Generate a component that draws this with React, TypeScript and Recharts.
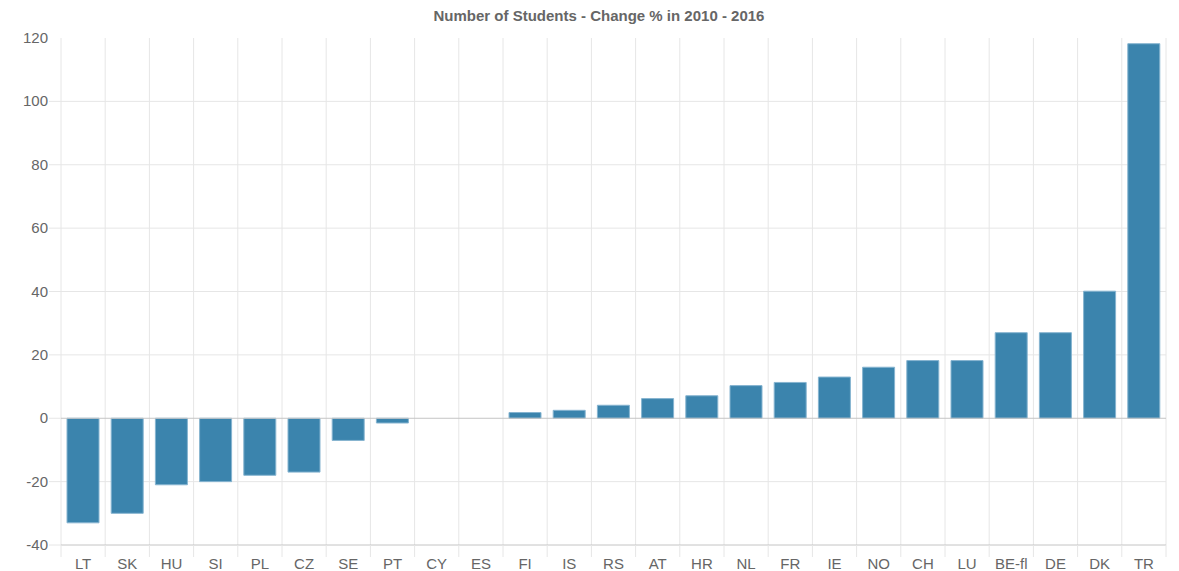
import { BarChart, Bar, XAxis, YAxis, CartesianGrid, ReferenceLine } from "recharts";

const countries = ["LT", "SK", "HU", "SI", "PL", "CZ", "SE", "PT", "CY", "ES", "FI", "IS", "RS", "AT", "HR", "NL", "FR", "IE", "NO", "CH", "LU", "BE-fl", "DE", "DK", "TR"];
const changes = [-33, -30, -21, -20, -18, -17, -7, -1.5, 0, 0, 1.8, 2.5, 4.1, 6.2, 7.1, 10.3, 11.3, 13, 16.1, 18.2, 18.2, 27, 27, 40.1, 118.2];
const yTicks = [-40, -20, 0, 20, 40, 60, 80, 100, 120];

const chartData = countries.map((country, i) => ({ country, change: changes[i] }));

const FONT = "'Liberation Sans', Arial, Helvetica, sans-serif";
const GRID = "#e6e6e6";
const AXIS = "#c4c4c4";

const XTick = (props: any) => {
    const { x, y, payload, index } = props;
    const half = payload && payload.offset ? payload.offset : 22.1;
    const last = index === countries.length - 1;
    return (
        <g>
            <line x1={x - half} x2={x - half} y1={y - 12} y2={y} stroke={GRID} />
            {last && <line x1={x + half} x2={x + half} y1={y - 12} y2={y} stroke={GRID} />}
            <text x={x} y={y + 12} textAnchor="middle" fill="#666" fontSize={15} fontFamily={FONT}>
                {payload.value}
            </text>
        </g>
    );
};

const YTick = (props: any) => {
    const { x, y, payload } = props;
    return (
        <g>
            {payload.value !== 120 && <line x1={x + 1} x2={x + 13} y1={y} y2={y} stroke={GRID} />}
            <text x={x} y={y + 5} textAnchor="end" fill="#666" fontSize={15} fontFamily={FONT}>
                {payload.value}
            </text>
        </g>
    );
};

// horizontal grid at the inner ticks (zero and the bottom axis are drawn separately)
const gridRows = yTicks.filter((t) => t !== 0 && t !== -40 && t !== 120);
const yMin = yTicks[0];
const yMax = yTicks[yTicks.length - 1];

export default function App() {
    return (
        <div style={{ position: "absolute", left: 0, top: 0, width: 1179, height: 571, background: "#fff" }}>
            <div
                style={{
                    position: "absolute",
                    top: 8,
                    left: 0,
                    width: 1198,
                    textAlign: "center",
                    fontFamily: FONT,
                    fontWeight: "bold",
                    fontSize: 15,
                    lineHeight: "15px",
                    color: "#666",
                }}
            >
                Number of Students - Change % in 2010 - 2016
            </div>
            <BarChart width={1179} height={571} data={chartData} margin={{ top: 38, right: 13, bottom: 0, left: 0 }}>
                <CartesianGrid
                    stroke={GRID}
                    verticalCoordinatesGenerator={({ offset }: any) =>
                        Array.from({ length: countries.length + 1 }, (_, i) => offset.left + (i * offset.width) / countries.length)
                    }
                    horizontalCoordinatesGenerator={({ offset }: any) =>
                        gridRows.map((t) => offset.top + (offset.height * (yMax - t)) / (yMax - yMin))
                    }
                />
                <ReferenceLine y={0} stroke={AXIS} />
                <XAxis
                    dataKey="country"
                    interval={0}
                    height={26}
                    tickLine={false}
                    tickSize={12}
                    tickMargin={0}
                    axisLine={{ stroke: AXIS }}
                    tick={<XTick />}
                />
                <YAxis
                    type="number"
                    domain={[yMin, yMax]}
                    ticks={yTicks}
                    width={61}
                    axisLine={false}
                    tickLine={false}
                    tickSize={10}
                    tickMargin={3}
                    tick={<YTick />}
                />
                <Bar dataKey="change" fill="#3b84ad" stroke="#86b4d0" strokeWidth={1} barSize={32} isAnimationActive={false} />
            </BarChart>
        </div>
    );
}
